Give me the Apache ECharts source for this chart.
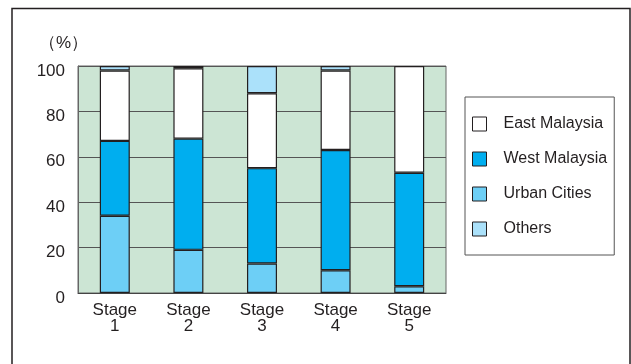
<!DOCTYPE html>
<html><head><meta charset="utf-8">
<script src="https://cdn.jsdelivr.net/npm/echarts@6/dist/echarts.min.js"></script>
<style>html,body{margin:0;padding:0;background:#fff}#c{width:631px;height:364px}</style>
</head><body><div id="c"></div>
<script>
const categories = ['Stage\n1','Stage\n2','Stage\n3','Stage\n4','Stage\n5'];
const urbanCities = [34, 19, 13, 10, 3];
const westMalaysia = [33, 49, 42, 53, 50];
const eastMalaysia = [31, 31, 33, 35, 47];
const others = [2, 1, 12, 2, null];
const yTicks = [0, 20, 40, 60, 80, 100];

const font = 'Liberation Sans, Arial, Helvetica, sans-serif';
const border = {borderColor:'#231f20', borderWidth:1.2};
function bar(name, data, color){
  return {name, type:'bar', stack:'s', data, barWidth:30,
    itemStyle:Object.assign({color}, border), emphasis:{disabled:true}};
}
const chart = echarts.init(document.getElementById('c'));
chart.setOption({
  animation:false,
  backgroundColor:'#fff',
  textStyle:{fontFamily:font},
  graphic:[{type:'rect', shape:{x:12,y:8.5,width:618,height:420},
    style:{fill:'none', stroke:'#231f20', lineWidth:1.5}, z:-10}],
  grid:{left:78, top:66, width:368, height:227, show:true,
    backgroundColor:'#cce5d4', borderColor:'#666', borderWidth:1},
  legend:{orient:'vertical', left:465, top:97, padding:[19,7,18,7],
    icon:'rect', itemWidth:14, itemHeight:14, itemGap:19,
    borderColor:'#555', borderWidth:1, backgroundColor:'#fff',
    textStyle:{fontSize:16, color:'#231f20', fontFamily:font, padding:[0,0,0,12]},
    data:['East Malaysia','West Malaysia','Urban Cities','Others'],
    itemStyle:{borderColor:'#231f20', borderWidth:1}},
  xAxis:{type:'category', data:categories,
    axisLine:{lineStyle:{color:'#444'}}, axisTick:{show:false},
    axisLabel:{fontSize:17, color:'#231f20', lineHeight:16, margin:9, fontFamily:font}},
  yAxis:{type:'value', min:0, max:100, interval:20,
    name:'（%）', nameLocation:'end', nameGap:14,
    nameTextStyle:{fontSize:17, color:'#231f20', align:'right', padding:[0,-10,0,0], fontFamily:font},
    axisLine:{show:true, lineStyle:{color:'#666'}}, axisTick:{show:false},
    splitLine:{lineStyle:{color:'#555', width:1}},
    axisLabel:{fontSize:17, color:'#231f20', margin:13, fontFamily:font,
      verticalAlign:'top', lineHeight:10,
      formatter:v=>yTicks.includes(v)?String(v):''}},
  series:[
    bar('Urban Cities', urbanCities, '#6dcff6'),
    bar('West Malaysia', westMalaysia, '#00aeef'),
    bar('East Malaysia', eastMalaysia, '#ffffff'),
    bar('Others', others, '#abe1fa')
  ]
});
</script></body></html>
